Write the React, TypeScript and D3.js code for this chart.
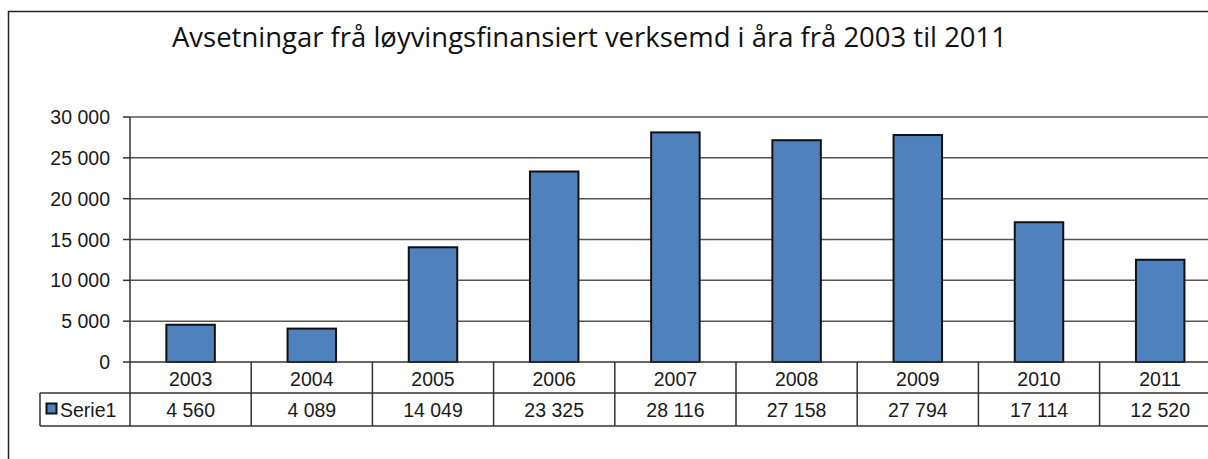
import * as d3 from "d3";
import { useEffect, useRef } from "react";

const years = ["2003", "2004", "2005", "2006", "2007", "2008", "2009", "2010", "2011"];
const serie1 = [4560, 4089, 14049, 23325, 28116, 27158, 27794, 17114, 12520];
const yTicks = [0, 5000, 10000, 15000, 20000, 25000, 30000];
const seriesName = "Serie1";
const title = "Avsetningar frå løyvingsfinansiert verksemd i åra frå 2003 til 2011";

const App = () => {
  const ref = useRef<SVGSVGElement>(null);

  useEffect(() => {
    document.body.style.margin = "0";
    document.body.style.overflow = "hidden";

    const svg = d3.select(ref.current);
    svg.selectAll("*").remove();

    const width = 1208,
      height = 459;
    const left = 130,
      top = 117,
      zeroY = 362,
      row1 = 393,
      row2 = 426,
      legendX = 40;

    const fmt = d3
      .formatLocale({ decimal: ",", thousands: " ", grouping: [3], currency: ["", ""] })
      .format(",d");

    const font = "Arial, 'Liberation Sans', sans-serif";

    // outer chart border: only the left and top edges are inside the picture
    svg.append("path")
      .attr("d", `M8.5,${height + 10}V11.5H${width + 10}`)
      .attr("fill", "none")
      .attr("stroke", "#222")
      .attr("stroke-width", 1.5);

    svg.append("text")
      .attr("x", 172)
      .attr("y", 47)
      .attr("textLength", 835)
      .attr("lengthAdjust", "spacingAndGlyphs")
      .attr("font-family", "'Open Sans', 'Noto Sans', sans-serif")
      .attr("font-size", 26.5)
      .attr("fill", "#111")
      .text(title);

    const x = d3.scaleBand()
      .domain(years)
      .range([left, left + 121.2 * years.length])
      .paddingInner(0.6)
      .paddingOuter(0.3);

    const y = d3.scaleLinear()
      .domain([0, 30000])
      .range([zeroY, top]);

    const right = left + x.step() * years.length;

    // gridlines
    svg.append("g")
      .selectAll("line")
      .data(yTicks.filter(d => d > 0))
      .join("line")
      .attr("x1", left)
      .attr("x2", right)
      .attr("y1", d => y(d))
      .attr("y2", d => y(d))
      .attr("stroke", "#555")
      .attr("stroke-width", 1.5);

    // y ticks and labels
    const ya = svg.append("g");
    ya.selectAll("line")
      .data(yTicks)
      .join("line")
      .attr("x1", left - 7)
      .attr("x2", left)
      .attr("y1", d => y(d))
      .attr("y2", d => y(d))
      .attr("stroke", "#333")
      .attr("stroke-width", 1.5);
    ya.selectAll("text")
      .data(yTicks)
      .join("text")
      .attr("x", 110)
      .attr("y", d => y(d) + 7)
      .attr("text-anchor", "end")
      .attr("font-family", font)
      .attr("font-size", 19.5)
      .attr("fill", "#1a1a1a")
      .text(d => fmt(d));

    // bars
    svg.append("g")
      .selectAll("rect")
      .data(serie1)
      .join("rect")
      .attr("x", (d, i) => x(years[i]))
      .attr("y", d => y(d))
      .attr("width", x.bandwidth())
      .attr("height", d => zeroY - y(d))
      .attr("fill", "#4f81bd")
      .attr("stroke", "#111")
      .attr("stroke-width", 2);

    // data table lines
    const lines = svg.append("g").attr("stroke", "#333").attr("stroke-width", 1.5);
    lines.append("line").attr("x1", left).attr("x2", right).attr("y1", zeroY).attr("y2", zeroY);
    lines.append("line").attr("x1", legendX).attr("x2", right).attr("y1", row1).attr("y2", row1);
    lines.append("line").attr("x1", legendX).attr("x2", right).attr("y1", row2).attr("y2", row2);
    lines.append("line").attr("x1", legendX).attr("x2", legendX).attr("y1", row1).attr("y2", row2);
    lines.append("line").attr("x1", left).attr("x2", left).attr("y1", top).attr("y2", row2);
    lines.selectAll(".div")
      .data(years)
      .join("line")
      .attr("class", "div")
      .attr("x1", d => x(d) - x.step() * 0.3 + x.step())
      .attr("x2", d => x(d) - x.step() * 0.3 + x.step())
      .attr("y1", zeroY)
      .attr("y2", row2);

    const cx = (d: string) => x(d) + x.bandwidth() / 2;

    svg.append("g")
      .selectAll("text")
      .data(years)
      .join("text")
      .attr("x", d => cx(d))
      .attr("y", zeroY + 24)
      .attr("text-anchor", "middle")
      .attr("font-family", font)
      .attr("font-size", 19.5)
      .attr("fill", "#1a1a1a")
      .text(d => d);

    svg.append("g")
      .selectAll("text")
      .data(serie1)
      .join("text")
      .attr("x", (d, i) => cx(years[i]))
      .attr("y", row1 + 24)
      .attr("text-anchor", "middle")
      .attr("font-family", font)
      .attr("font-size", 19.5)
      .attr("fill", "#1a1a1a")
      .text(d => fmt(d));

    // legend key in table
    svg.append("rect")
      .attr("x", 46.5)
      .attr("y", 403.5)
      .attr("width", 10)
      .attr("height", 10)
      .attr("fill", "#4f81bd")
      .attr("stroke", "#111")
      .attr("stroke-width", 2);
    svg.append("text")
      .attr("x", 60)
      .attr("y", row1 + 24)
      .attr("font-family", font)
      .attr("font-size", 19.5)
      .attr("fill", "#1a1a1a")
      .text(seriesName);
  }, []);

  return (
    <svg
      ref={ref}
      width={1208}
      height={459}
      style={{ position: "absolute", left: 0, top: 0, background: "white", display: "block" }}
    />
  );
};

export default App;
